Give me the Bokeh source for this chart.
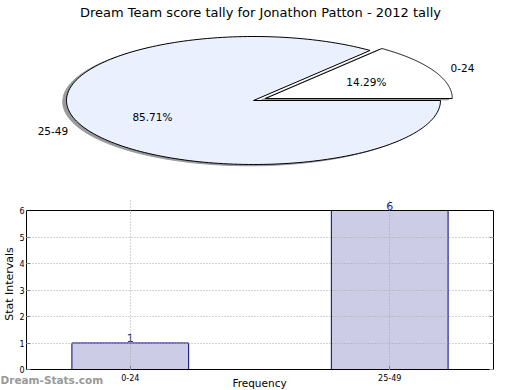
import numpy as np
from bokeh.plotting import figure
from bokeh.models import Range1d, Label, ColumnDataSource, FixedTicker, LinearAxis, Span
from bokeh.layouts import column
from bokeh.embed import file_html
from bokeh.resources import INLINE
from bokeh.core.properties import value

# ---------------- data ----------------
title_text = "Dream Team score tally for Jonathon Patton - 2012 tally"
categories = ["0-24", "25-49"]
counts = [1, 6]
slice_colors = ["#ffffff", "#eaf0fd"]
explode = [0.07, 0.0]
y_ticks = [0, 1, 2, 3, 4, 5, 6]
y_label = "Stat Intervals"
x_label = "Frequency"
watermark = "Dream-Stats.com"

# ---------------- layout constants ----------------
FONT = "DejaVu Sans"
W = 520
PIE_H = 198
BAR_H = 192
FOOT_H = 21
RX, RY = 187.0, 64.0     # pixels per pie-radius unit (squashed pie)
CX, CY = 253.0, 100.0    # pie centre in canvas pixels from top-left

# ---------------- pie ----------------
pie = figure(width=W, height=PIE_H, output_backend="svg", toolbar_location=None, title=None,
             x_range=Range1d(-CX / RX, (W - CX) / RX),
             y_range=Range1d(-(PIE_H - CY) / RY, CY / RY),
             x_axis_type=None, y_axis_type=None, min_border=0, frame_align=False)
pie.grid.visible = False
pie.outline_line_color = None
pie.background_fill_color = "white"

total = float(sum(counts))
xs, ys, sxs, sys_ = [], [], [], []
lab_x, lab_y, lab_align = [], [], []
pct_x, pct_y, pct_txt = [], [], []
start = 0.0
for c, e in zip(counts, explode):
    frac = c / total
    a0, a1 = start, start + 2 * np.pi * frac
    mid = 0.5 * (a0 + a1)
    ox, oy = e * np.cos(mid), e * np.sin(mid)
    t = np.linspace(a0, a1, 200)
    px = np.concatenate([[ox], ox + np.cos(t), [ox]])
    py = np.concatenate([[oy], oy + np.sin(t), [oy]])
    xs.append(px); ys.append(py)
    sxs.append(px - 0.02); sys_.append(py - 0.02)
    lab_x.append(ox + 1.1 * np.cos(mid)); lab_y.append(oy + 1.1 * np.sin(mid))
    lab_align.append("left" if np.cos(mid) > 0 else "right")
    pct_x.append(ox + 0.6 * np.cos(mid)); pct_y.append(oy + 0.6 * np.sin(mid))
    pct_txt.append("%.2f%%" % (100 * frac))
    start = a1

pie.patches(xs=sxs, ys=sys_, fill_color="#9a9a9a", line_color="#9a9a9a", line_width=1)
pie.patches(xs=xs, ys=ys, fill_color=slice_colors, line_color="black", line_width=1)

lab_src = ColumnDataSource(dict(x=lab_x, y=lab_y, t=categories, a=lab_align))
pie.text(x="x", y="y", text="t", text_align="a", text_baseline="middle", source=lab_src,
         text_font=value(FONT), text_font_size="10.5px", text_color="black")
pct_src = ColumnDataSource(dict(x=pct_x, y=pct_y, t=pct_txt))
pie.text(x="x", y="y", text="t", text_align="center", text_baseline="middle", source=pct_src,
         text_font=value(FONT), text_font_size="10.5px", text_color="black")

pie.add_layout(Label(x=W / 2, y=PIE_H - 4, x_units="screen", y_units="screen", text=title_text,
                     text_align="center", text_baseline="top", text_font=FONT,
                     text_font_size="13px", text_color="black"))

# ---------------- bar chart ----------------
FL, FR, FB = 25, 27, 21          # borders: left, right, bottom
BOX_TOP = 12                      # gap between canvas top and the chart box
frame_h = BAR_H - FB
px_per_unit = (frame_h - BOX_TOP) / float(y_ticks[-1])
positions = list(range(len(categories)))
bar = figure(width=W, height=BAR_H, output_backend="svg", toolbar_location=None, title=None,
             x_range=Range1d(-0.4, 1.4), y_range=Range1d(0, frame_h / px_per_unit),
             min_border_left=FL, min_border_right=FR, min_border_top=0, min_border_bottom=FB,
             frame_align=False)
bar.outline_line_color = None
bar.background_fill_color = "white"

src = ColumnDataSource(dict(x=positions, top=counts))
bar.vbar(x="x", top="top", width=0.45, source=src, fill_color="#ccccE6",
         line_color="#000080", line_width=1)

bar.xaxis.ticker = FixedTicker(ticks=positions)
bar.xaxis.major_label_overrides = {i: c for i, c in zip(positions, categories)}
bar.yaxis.ticker = FixedTicker(ticks=y_ticks)
bar.yaxis.bounds = (y_ticks[0], y_ticks[-1])
for ax in (bar.xaxis, bar.yaxis):
    ax.major_tick_in = 4
    ax.major_tick_out = 0
    ax.minor_tick_line_color = None
    ax.axis_line_color = "black"
    ax.axis_line_width = 1
    ax.major_tick_line_color = "#777777"
    ax.major_label_text_font = FONT
    ax.major_label_text_font_size = "8px"
    ax.major_label_text_color = "black"
bar.xaxis.major_label_standoff = 4
bar.yaxis.major_label_standoff = 2
bar.yaxis.axis_label = y_label
bar.yaxis.axis_label_standoff = 0
bar.yaxis.axis_label_text_font = FONT
bar.yaxis.axis_label_text_font_size = "11px"
bar.yaxis.axis_label_text_font_style = "normal"
bar.yaxis.axis_label_text_color = "black"

right = LinearAxis(ticker=FixedTicker(ticks=y_ticks), bounds=(y_ticks[0], y_ticks[-1]),
                   major_tick_in=4, major_tick_out=0,
                   minor_tick_line_color=None, axis_line_color="black",
                   major_label_text_alpha=0, major_label_text_font_size="1px",
                   major_tick_line_color="#999999")
bar.add_layout(right, "right")
bar.add_layout(Span(location=y_ticks[-1], dimension="width", line_color="black", line_width=1))

bar.xgrid.ticker = FixedTicker(ticks=positions)
bar.xgrid.bounds = (y_ticks[0], y_ticks[-1])
bar.ygrid.ticker = FixedTicker(ticks=y_ticks[1:-1])
bar.grid.grid_line_color = "#a8a8a8"
bar.grid.grid_line_dash = "1 2"
bar.grid.grid_line_width = 1
bar.grid.level = "overlay"

for xv, cv in zip(positions, counts):
    bar.add_layout(Label(x=xv, y=cv, y_offset=1, text=str(cv), text_align="center",
                         text_baseline="bottom", text_font=FONT,
                         text_font_size="11px", text_color="#1a1a8c"))

# ---------------- footer overlay (texts under the x axis) ----------------
foot = figure(width=W, height=FOOT_H, output_backend="svg", toolbar_location=None, title=None,
              x_range=Range1d(0, W), y_range=Range1d(FOOT_H, 0),
              x_axis_type=None, y_axis_type=None, min_border=0, frame_align=False,
              margin=(-FOOT_H, 0, 0, 0))
foot.grid.visible = False
foot.outline_line_color = None
foot.background_fill_alpha = 0
foot.border_fill_alpha = 0
foot.text(x=[0], y=[16.5], text=[watermark], text_align="left", text_baseline="bottom",
          text_font=value(FONT), text_font_style="bold", text_font_size="10.5px",
          text_color="#999999")
foot.text(x=[259], y=[7], text=[x_label], text_align="center", text_baseline="top",
          text_font=value(FONT), text_font_size="10.5px", text_color="black")

layout = column(pie, bar, foot, spacing=0)
open("out.html", "w").write(file_html(layout, INLINE))
